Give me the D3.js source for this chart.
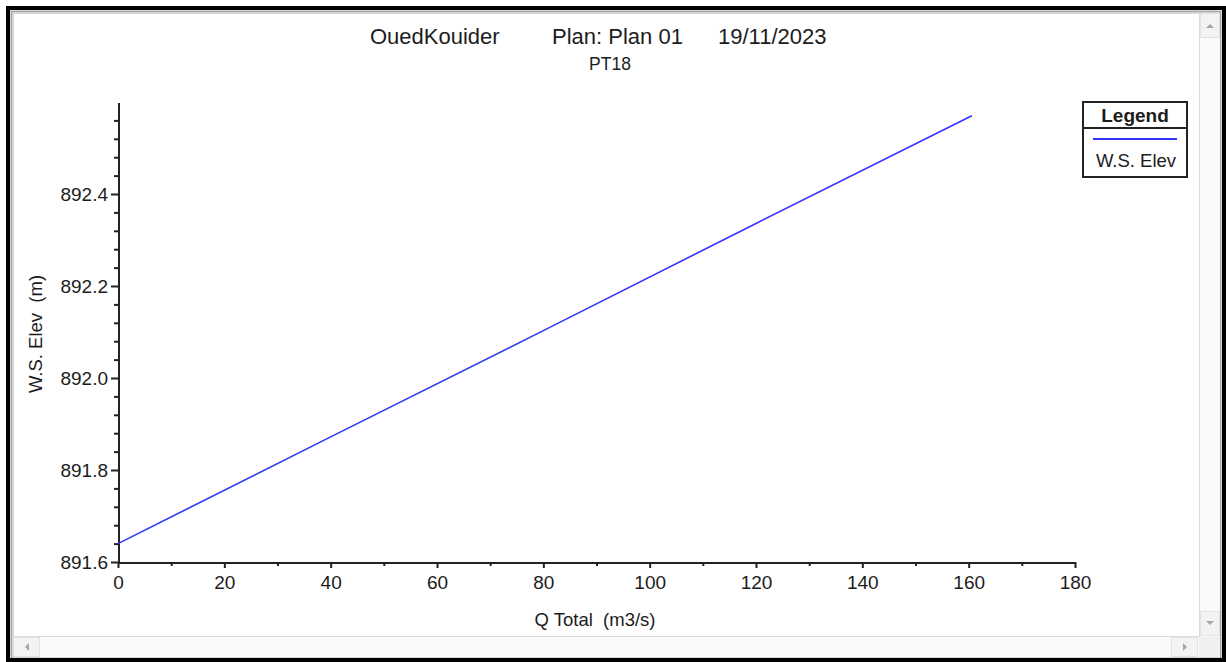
<!DOCTYPE html>
<html>
<head>
<meta charset="utf-8">
<script src="https://cdn.jsdelivr.net/npm/d3@7"></script>
<style>
  html, body { margin: 0; padding: 0; background: #fff; }
  svg { display: block; font-family: "Liberation Sans", Arial, sans-serif; }
</style>
</head>
<body>
<div id="chart"></div>
<script>
  // rating curve: Q Total (m3/s) -> W.S. Elev (m)
  const flows = [0, 40, 80, 120, 160.6];
  const wsElev = [891.64, 891.872, 892.103, 892.336, 892.57];

  const titleParts = ["OuedKouider", "Plan: Plan 01", "19/11/2023"];
  const subTitle = "PT18";
  const xTickValues = [0, 20, 40, 60, 80, 100, 120, 140, 160, 180];
  const yTickValues = [891.6, 891.8, 892.0, 892.2, 892.4];
  const xLabel = "Q Total  (m3/s)";
  const yLabel = "W.S. Elev  (m)";
  const legendTitle = "Legend";
  const seriesName = "W.S. Elev";

  const width = 1226, height = 662;
  const plot = { left: 118, right: 1075, top: 102, bottom: 562 };
  const ink = "#1c1c1c";
  const lineColor = "#3333ff";

  const svg = d3.select("#chart").append("svg")
    .attr("width", width).attr("height", height)
    .attr("viewBox", `0 0 ${width} ${height}`);

  // window frame + scrollbars
  svg.append("rect").attr("x", 0).attr("y", 0).attr("width", width).attr("height", height).attr("fill", "#fff");
  svg.append("rect").attr("x", 11.5).attr("y", 11.5).attr("width", 1209).attr("height", 647)
    .attr("fill", "none").attr("stroke", "#a8a8a8").attr("stroke-width", 2);
  svg.append("rect").attr("x", 13.5).attr("y", 13.5).attr("width", 1205).attr("height", 643)
    .attr("fill", "none").attr("stroke", "#d8d8d8").attr("stroke-width", 1);

  // vertical scrollbar
  svg.append("rect").attr("x", 1199).attr("y", 13).attr("width", 21).attr("height", 624).attr("fill", "#fafafa");
  svg.append("line").attr("x1", 1199.5).attr("x2", 1199.5).attr("y1", 13).attr("y2", 637).attr("stroke", "#dcdcdc");
  svg.append("rect").attr("x", 1200.5).attr("y", 13.5).attr("width", 19).attr("height", 24)
    .attr("fill", "#f3f3f3").attr("stroke", "#e2e2e2");
  svg.append("rect").attr("x", 1200.5).attr("y", 611.5).attr("width", 19).attr("height", 24)
    .attr("fill", "#f3f3f3").attr("stroke", "#e2e2e2");
  svg.append("path").attr("d", "M1206,28 L1210,24 L1214,28 Z").attr("fill", "#a6a6a6");
  svg.append("path").attr("d", "M1206,621 L1210,625 L1214,621 Z").attr("fill", "#a6a6a6");

  // horizontal scrollbar
  svg.append("rect").attr("x", 13).attr("y", 637).attr("width", 1186).attr("height", 20).attr("fill", "#fafafa");
  svg.append("line").attr("x1", 13).attr("x2", 1199).attr("y1", 636.5).attr("y2", 636.5).attr("stroke", "#dcdcdc");
  svg.append("rect").attr("x", 13.5).attr("y", 637.5).attr("width", 26).attr("height", 19)
    .attr("fill", "#f3f3f3").attr("stroke", "#e2e2e2");
  svg.append("rect").attr("x", 1171.5).attr("y", 637.5).attr("width", 26).attr("height", 19)
    .attr("fill", "#f3f3f3").attr("stroke", "#e2e2e2");
  svg.append("path").attr("d", "M25,647 L29,643 L29,651 Z").attr("fill", "#a6a6a6");
  svg.append("path").attr("d", "M1187,647 L1183,643 L1183,651 Z").attr("fill", "#a6a6a6");
  svg.append("rect").attr("x", 1199).attr("y", 637).attr("width", 21).attr("height", 20).attr("fill", "#f0f0f0");

  // outer black border
  svg.append("rect").attr("x", 8).attr("y", 8).attr("width", 1216).attr("height", 652)
    .attr("fill", "none").attr("stroke", "#000").attr("stroke-width", 4);

  // titles
  const titleX = [370, 552, 718];
  svg.selectAll(".title-part").data(titleParts).join("text")
    .attr("class", "title-part")
    .attr("x", (d, i) => titleX[i]).attr("y", 44)
    .attr("font-size", 22).attr("fill", ink)
    .text((d) => d);
  svg.append("text").attr("x", 610).attr("y", 70).attr("text-anchor", "middle")
    .attr("font-size", 17.5).attr("fill", ink).text(subTitle);

  const x = d3.scaleLinear().domain([0, 180]).range([plot.left, plot.right]);
  const y = d3.scaleLinear().domain([891.6, 892.6]).range([plot.bottom, plot.top]);

  // x axis
  const xMinor = x.ticks(18).filter((t) => !xTickValues.includes(t));
  svg.append("g").attr("transform", `translate(0,${plot.bottom})`)
    .call(d3.axisBottom(x).tickValues(xMinor).tickSize(4).tickFormat(""))
    .call((g) => g.select(".domain").remove())
    .call((g) => g.selectAll("line").attr("stroke", "#222").attr("stroke-width", 2));
  const xAxis = svg.append("g").attr("transform", `translate(0,${plot.bottom})`)
    .call(d3.axisBottom(x).tickValues(xTickValues).tickSize(6).tickPadding(8).tickSizeOuter(0));
  xAxis.select(".domain").attr("stroke", "#222").attr("stroke-width", 2);
  xAxis.selectAll("line").attr("stroke", "#222").attr("stroke-width", 2);
  xAxis.selectAll("text").attr("font-size", 19).attr("fill", ink).attr("font-family", null);

  // y axis
  const yMinor = d3.range(1, 25).map((i) => +(891.6 + i * 0.04).toFixed(2))
    .filter((t) => !yTickValues.some((v) => Math.abs(v - t) < 1e-6));
  svg.append("g").attr("transform", `translate(${plot.left},0)`)
    .call(d3.axisLeft(y).tickValues(yMinor).tickSize(4).tickFormat(""))
    .call((g) => g.select(".domain").remove())
    .call((g) => g.selectAll("line").attr("stroke", "#222").attr("stroke-width", 2));
  const yAxis = svg.append("g").attr("transform", `translate(${plot.left},0)`)
    .call(d3.axisLeft(y).tickValues(yTickValues).tickSize(7).tickPadding(3)
      .tickSizeOuter(0).tickFormat(d3.format(".1f")));
  yAxis.select(".domain").attr("stroke", "#222").attr("stroke-width", 2);
  yAxis.selectAll("line").attr("stroke", "#222").attr("stroke-width", 2);
  yAxis.selectAll("text").attr("font-size", 19).attr("fill", ink).attr("font-family", null);
  svg.selectAll(".domain").attr("shape-rendering", "crispEdges");

  // axis titles
  svg.append("text").attr("x", 595).attr("y", 626).attr("text-anchor", "middle")
    .attr("font-size", 18.5).attr("fill", ink).attr("xml:space", "preserve").text(xLabel);
  svg.append("text").attr("transform", "translate(42,334) rotate(-90)").attr("text-anchor", "middle")
    .attr("font-size", 18.5).attr("fill", ink).attr("xml:space", "preserve").text(yLabel);

  // series
  const points = flows.map((q, i) => [q, wsElev[i]]);
  svg.append("path").datum(points)
    .attr("fill", "none").attr("stroke", lineColor).attr("stroke-width", 1.6)
    .attr("d", d3.line().x((d) => x(d[0])).y((d) => y(d[1])));

  // legend
  const legend = svg.append("g").attr("transform", "translate(1083,102)");
  legend.append("rect").attr("width", 104).attr("height", 75)
    .attr("fill", "#fff").attr("stroke", "#222").attr("stroke-width", 2);
  legend.append("line").attr("x1", 0).attr("x2", 104).attr("y1", 26).attr("y2", 26)
    .attr("stroke", "#222").attr("stroke-width", 2);
  legend.append("text").attr("x", 52).attr("y", 20).attr("text-anchor", "middle")
    .attr("font-size", 19).attr("font-weight", "bold").attr("fill", ink).text(legendTitle);
  legend.append("line").attr("x1", 10).attr("x2", 94).attr("y1", 37).attr("y2", 37)
    .attr("stroke", lineColor).attr("stroke-width", 1.8);
  legend.append("text").attr("x", 53).attr("y", 65).attr("text-anchor", "middle")
    .attr("font-size", 18.5).attr("fill", ink).text(seriesName);
</script>
</body>
</html>
